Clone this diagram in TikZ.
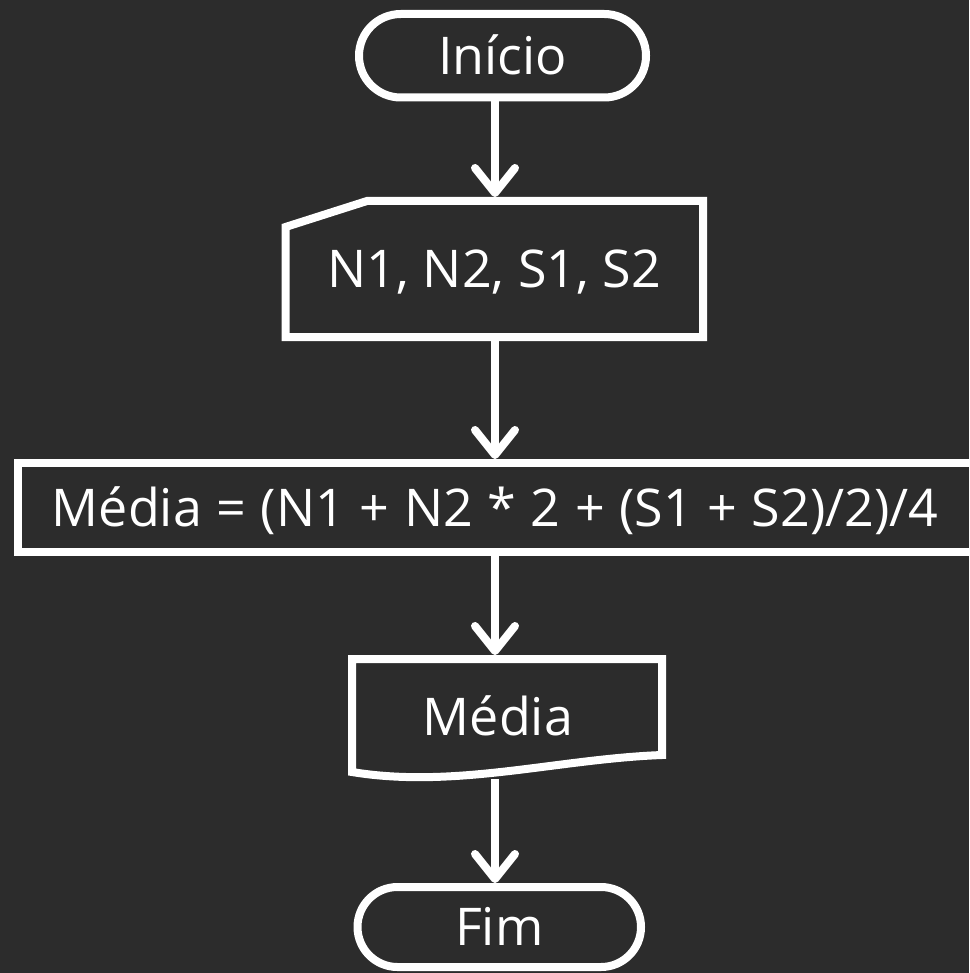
\documentclass[tikz,border=0pt]{standalone}
\usepackage{fontspec}
\setmainfont{Open Sans}
\usetikzlibrary{shapes.misc,arrows.meta,calc}
\definecolor{board}{RGB}{44,44,44}
\newcommand\opr[1]{\hspace{0.28em}#1\hspace{0.28em}}
\begin{document}
\begin{tikzpicture}[x=1pt,y=-1pt,
  every node/.style={text=white,font=\fontsize{52}{62}\selectfont,inner sep=0pt,outer sep=4pt,text height=37.1pt,text depth=0pt},
  outl/.style={draw=white,line width=8pt},
  term/.style={rounded rectangle,outl},
  conn/.style={draw=white,line width=8pt,-{Straight Barb[length=25pt,width=40pt,round]}}]
\fill[board] (0,0) rectangle (969,973);
\useasboundingbox (0,0) rectangle (969,973);
\clip (0,0) rectangle (969,973);
\coordinate (axis) at (495,0);
% start
\node[term,minimum width=287pt,minimum height=83.5pt] (start) at (502.5,55.75) {Início};
% manual input
\node[minimum width=417.5pt,minimum height=136pt,outer sep=0pt] (in) at (494.25,269) {N1, N2, S1, S2};
\draw[outl] ($(in.north west)+(0,26)$) -- ($(in.north west)+(81.5,0)$) -- (in.north east) -- (in.south east) -- (in.south west) -- cycle;
% process
\node[outl,minimum width=955.5pt,minimum height=89pt] (proc) at (495.25,507.5) {Média\opr{=}(N1\opr{+}N2\opr{*}2\opr{+}(S1\opr{+}S2)/2)/4};
% document
\node[minimum width=292pt,minimum height=116pt,outer sep=0pt] (doc) at (498,717) {Média};
\draw[outl] ($(doc.center)+(-146,55)$) -- ($(doc.center)+(-146,-58)$) -- ($(doc.center)+(164,-58)$) -- ($(doc.center)+(164,38)$) .. controls (557,759) and (455,789) .. cycle;
\coordinate (doctop) at ($(doc.center)+(-3,-58)$);
\coordinate (docbot) at ($(doc.center)+(-3,58)$);
% end
\node[term,minimum width=283.5pt,minimum height=80pt] (fim) at (499.25,927) {Fim};
% connectors
\draw[conn,shorten >=4pt] (start.south -| axis) -- (in.north -| axis);
\draw[conn,shorten <=4pt] (in.south -| axis) -- (proc.north -| axis);
\draw[conn,shorten >=4pt] (proc.south -| axis) -- (doctop);
\draw[conn,shorten <=4pt] (docbot) -- (fim.north -| axis);
\end{tikzpicture}
\end{document}
